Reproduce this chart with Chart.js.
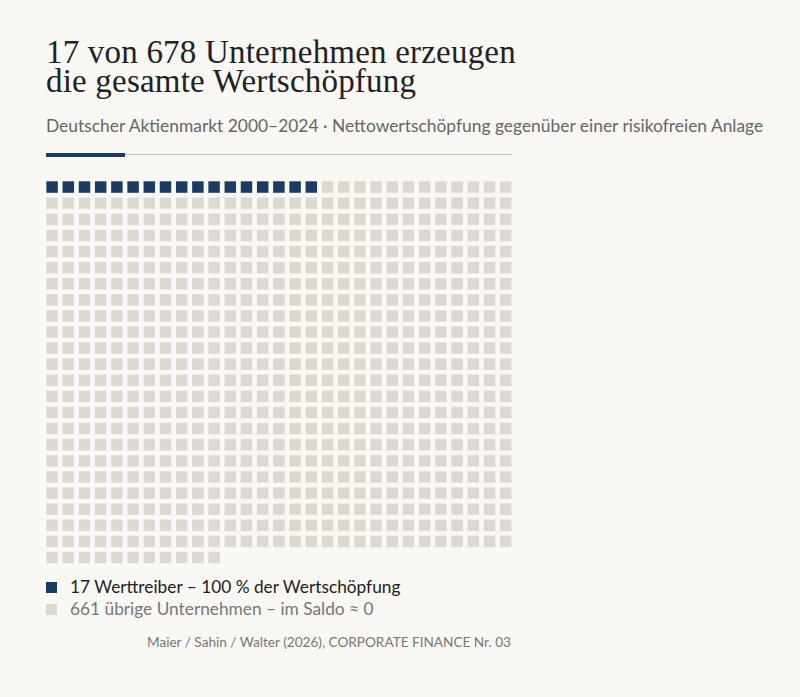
<!DOCTYPE html>
<html lang="de">
<head>
<meta charset="utf-8">
<script src="https://cdn.jsdelivr.net/npm/chart.js@4/dist/chart.umd.min.js"></script>
<style>
  html, body { margin: 0; padding: 0; background: #f9f8f5; }
  body { width: 800px; height: 697px; position: relative; overflow: hidden; font-family: Lato, "Open Sans", sans-serif; }
  .title { position: absolute; left: 46px; top: 38px; margin: 0; font-family: "Liberation Serif", "DejaVu Serif", serif; font-weight: normal; font-size: 33px; line-height: 29px; color: #222; letter-spacing: 0.2px; white-space: nowrap; }
  .subtitle { position: absolute; left: 46px; top: 115px; font-size: 17.4px; color: #666; white-space: nowrap; }
  .rule { position: absolute; left: 46px; top: 153.5px; width: 466px; height: 1.3px; background: #c4c2bd; }
  .rule-accent { position: absolute; left: 46px; top: 152.5px; width: 79px; height: 4px; background: #1d3a62; }
  #wrap { position: absolute; left: 43.6px; top: 178.7px; width: 469.8px; height: 386.6px; }
  .legend { position: absolute; left: 46px; font-size: 17.3px; white-space: nowrap; }
  .legend .box { display: inline-block; width: 11px; height: 11px; margin-right: 13px; vertical-align: -0.5px; }
  .source { position: absolute; right: 289px; top: 633.6px; font-size: 13.6px; color: #777; white-space: nowrap; }
</style>
</head>
<body>
<h1 class="title">17 von 678 Unternehmen erzeugen<br>die gesamte Wertschöpfung</h1>
<div class="subtitle">Deutscher Aktienmarkt 2000–2024 · Nettowertschöpfung gegenüber einer risikofreien Anlage</div>
<div class="rule"></div>
<div class="rule-accent"></div>
<div id="wrap"><canvas id="c"></canvas></div>
<div class="legend" id="leg0" style="top:575.6px;color:#222"></div>
<div class="legend" id="leg1" style="top:597.9px;color:#777"></div>
<div class="source">Maier / Sahin / Walter (2026), CORPORATE FINANCE Nr. 03</div>
<script>
// ---- data ----
const categories = ['17 Werttreiber – 100 % der Wertschöpfung', '661 übrige Unternehmen – im Saldo ≈ 0'];
const counts = [17, 661];
const gridColumns = 29;
const colors = ['#1d3a62', '#dcd9d1'];

// build waffle cells (index -> column/row) from the counts
const datasets = [];
let idx = 0;
counts.forEach((n, k) => {
  const pts = [];
  for (let j = 0; j < n; j++, idx++) {
    pts.push({ x: idx % gridColumns, y: Math.floor(idx / gridColumns) });
  }
  datasets.push({
    label: categories[k],
    data: pts,
    pointStyle: 'rect',
    pointRadius: 8.13,
    pointHoverRadius: 8.13,
    backgroundColor: colors[k],
    borderWidth: 0,
    pointBorderWidth: 0
  });
});
const totalRows = Math.ceil(idx / gridColumns);

// legend
categories.forEach((c, k) => {
  const el = document.getElementById('leg' + k);
  el.innerHTML = '<span class="box" style="background:' + colors[k] + '"></span>' + c;
});

new Chart(document.getElementById('c'), {
  type: 'scatter',
  data: { datasets },
  options: {
    responsive: true,
    maintainAspectRatio: false,
    animation: false,
    events: [],
    clip: false,
    layout: { padding: 0, autoPadding: false },
    plugins: { legend: { display: false }, tooltip: { enabled: false } },
    scales: {
      x: { type: 'linear', min: -0.5, max: gridColumns - 0.5, display: false },
      y: { type: 'linear', min: -0.5, max: totalRows - 0.5, reverse: true, display: false }
    }
  }
});
</script>
</body>
</html>
